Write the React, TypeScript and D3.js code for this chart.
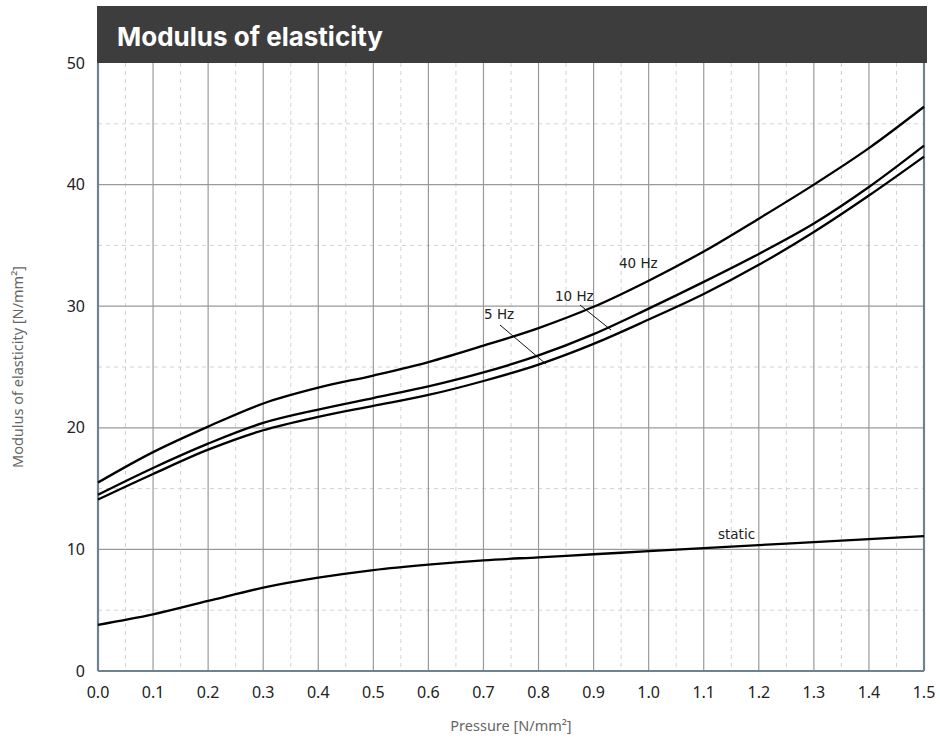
import React from 'react';
import * as d3 from 'd3';

const pressure = [0, 0.1, 0.2, 0.3, 0.4, 0.5, 0.6, 0.7, 0.8, 0.9, 1.0, 1.1, 1.2, 1.3, 1.4, 1.5];
const hz40 = [15.5, 18.0, 20.1, 22.0, 23.3, 24.3, 25.4, 26.75, 28.2, 29.95, 32.1, 34.5, 37.2, 40.0, 43.0, 46.4];
const hz10 = [14.5, 16.7, 18.7, 20.4, 21.5, 22.45, 23.4, 24.55, 25.95, 27.7, 29.8, 32.0, 34.3, 36.8, 39.8, 43.2];
const hz5 = [14.1, 16.2, 18.2, 19.8, 20.9, 21.8, 22.7, 23.85, 25.2, 26.9, 28.9, 31.0, 33.4, 36.1, 39.1, 42.3];
const staticE = [3.8, 4.66, 5.76, 6.85, 7.67, 8.3, 8.75, 9.1, 9.35, 9.6, 9.85, 10.1, 10.35, 10.6, 10.85, 11.1];

const xTicks = d3.range(0, 16).map(i => i / 10);
const yTicks = [0, 10, 20, 30, 40, 50];

const W = 940;
const H = 740;
const left = 98;
const right = 924;
const top = 63;
const bottom = 671;

export default function App() {
  const x = d3.scaleLinear().domain([0, 1.5]).range([left, right]);
  const y = d3.scaleLinear().domain([0, 50]).range([bottom, top]);

  const line = d3.line<number>()
    .x((_, i) => x(pressure[i]))
    .y(d => y(d))
    .curve(d3.curveCatmullRom.alpha(0.5));

  const minorX = d3.range(0, 15).map(i => i / 10 + 0.05);
  const minorY = d3.range(0, 5).map(i => i * 10 + 5);

  const labelFont = '"DejaVu Sans", sans-serif';
  const tickFont = '"Noto Sans", sans-serif';

  return (
    <svg width={W} height={H} style={{ position: 'absolute', left: 0, top: 0 }}>
      <rect x={0} y={0} width={W} height={H} fill="#fff" />

      {/* title bar */}
      <rect x={97} y={6} width={830} height={57} fill="#3d3d3d" />
      <text x={117} y={46} fill="#fff" fontFamily='Inter, "Noto Sans", sans-serif'
        fontWeight={700} fontSize={26}>Modulus of elasticity</text>

      {/* minor grid */}
      {minorX.map(v => (
        <line key={'mx' + v} x1={x(v)} x2={x(v)} y1={top} y2={bottom}
          stroke="#d2d2d2" strokeDasharray="4,4" strokeWidth={1} />
      ))}
      {minorY.map(v => (
        <line key={'my' + v} x1={left} x2={right} y1={y(v)} y2={y(v)}
          stroke="#d2d2d2" strokeDasharray="4,4" strokeWidth={1} />
      ))}

      {/* major grid */}
      {xTicks.slice(1, -1).map(v => (
        <line key={'gx' + v} x1={x(v)} x2={x(v)} y1={top} y2={bottom}
          stroke="#9a9a9a" strokeWidth={1.2} />
      ))}
      {yTicks.slice(1, -1).map(v => (
        <line key={'gy' + v} x1={left} x2={right} y1={y(v)} y2={y(v)}
          stroke="#9a9a9a" strokeWidth={1.2} />
      ))}

      {/* axes frame */}
      <line x1={left} x2={left} y1={top} y2={bottom} stroke="#6f8290" strokeWidth={2.2} />
      <line x1={right} x2={right} y1={top} y2={bottom} stroke="#6f8290" strokeWidth={2.2} />
      <line x1={left} x2={right} y1={bottom} y2={bottom} stroke="#6f8290" strokeWidth={2.2} />

      {/* curves */}
      {[hz40, hz10, hz5, staticE].map((s, i) => (
        <path key={i} d={line(s) || ''} fill="none" stroke="#000" strokeWidth={2.3} />
      ))}

      {/* series labels */}
      <g fontFamily={labelFont} fontSize={13.5} fill="#222">
        <text x={619} y={268}>40 Hz</text>
        <text x={555} y={301}>10 Hz</text>
        <text x={484} y={319}>5 Hz</text>
        <text x={718} y={539}>static</text>
      </g>
      <line x1={580} y1={305} x2={611} y2={330} stroke="#111" strokeWidth={1} />
      <line x1={500} y1={325} x2={546} y2={364} stroke="#111" strokeWidth={1} />

      {/* tick labels */}
      <g fontFamily={tickFont} fontSize={16} fill="#222">
        {yTicks.map(v => (
          <text key={'ty' + v} x={85} y={y(v)} dy="0.35em" textAnchor="end">{v}</text>
        ))}
        {xTicks.map(v => (
          <text key={'tx' + v} x={x(v)} y={698} textAnchor="middle">{v.toFixed(1)}</text>
        ))}
      </g>

      {/* axis titles */}
      <text x={(left + right) / 2} y={731} textAnchor="middle" fontFamily={tickFont}
        fontSize={14.5} fill="#666">Pressure [N/mm²]</text>
      <text transform={`translate(23,${(top + bottom) / 2}) rotate(-90)`} textAnchor="middle"
        fontFamily={tickFont} fontSize={14.5} fill="#666">Modulus of elasticity [N/mm²]</text>
    </svg>
  );
}
